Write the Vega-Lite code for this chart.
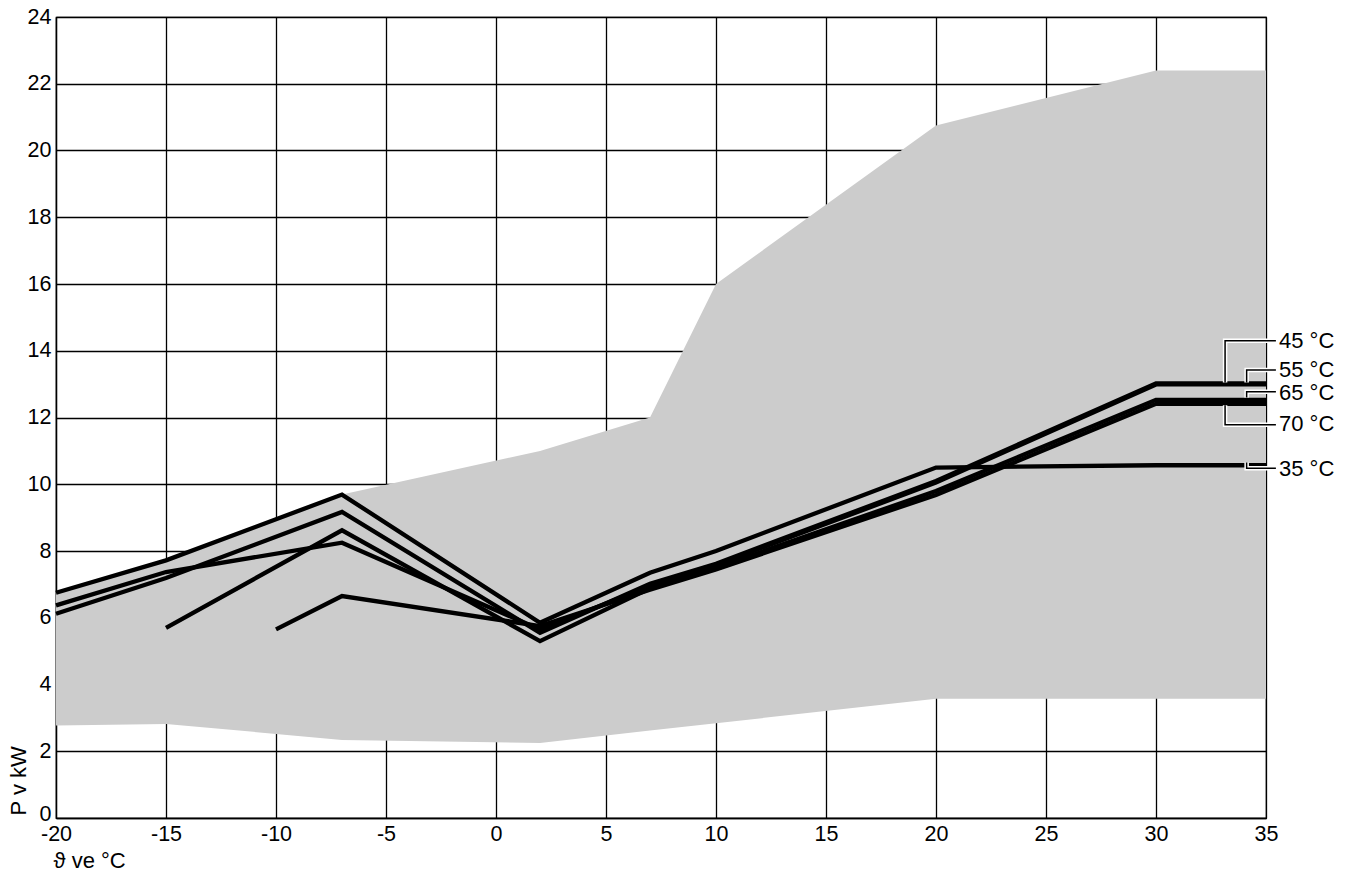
{
  "$schema": "https://vega.github.io/schema/vega-lite/v6.json",
  "width": 1210,
  "height": 801,
  "autosize": {"type": "none"},
  "padding": {"left": 56, "top": 17, "right": 88, "bottom": 57},
  "background": "white",
  "config": {
    "font": "Liberation Sans",
    "view": {"stroke": "black", "strokeWidth": 1.2},
    "axis": {
      "grid": true, "gridColor": "black", "gridWidth": 1.3, "gridOpacity": 1,
      "domain": true, "domainColor": "black", "domainWidth": 1.3,
      "ticks": false, "labelFontSize": 21.5, "labelColor": "black",
      "labelFont": "Liberation Sans", "titleFont": "Liberation Sans",
      "titleFontSize": 22, "titleFontWeight": "normal", "titleColor": "black",
      "labelOverlap": false, "labelFlush": false, "zindex": 1
    }
  },
  "datasets": {
    "band": [
      {"x": -20, "y": 2.77, "y2": 6.75},
      {"x": -15, "y": 2.82, "y2": 7.72},
      {"x": -7, "y": 2.34, "y2": 9.69},
      {"x": 2, "y": 2.25, "y2": 11.0},
      {"x": 7, "y": 2.62, "y2": 12.0},
      {"x": 10, "y": 2.84, "y2": 16.0},
      {"x": 20, "y": 3.57, "y2": 20.75},
      {"x": 30, "y": 3.57, "y2": 22.4},
      {"x": 35, "y": 3.57, "y2": 22.4}
    ],
    "curves": [
      {"series": "35 °C", "x": -20, "y": 6.75},
      {"series": "35 °C", "x": -15, "y": 7.72},
      {"series": "35 °C", "x": -7, "y": 9.69},
      {"series": "35 °C", "x": 2, "y": 5.85},
      {"series": "35 °C", "x": 7, "y": 7.35},
      {"series": "35 °C", "x": 10, "y": 8.0},
      {"series": "35 °C", "x": 20, "y": 10.5},
      {"series": "35 °C", "x": 30, "y": 10.57},
      {"series": "35 °C", "x": 35, "y": 10.57},
      {"series": "45 °C", "x": -20, "y": 6.12},
      {"series": "45 °C", "x": -15, "y": 7.19},
      {"series": "45 °C", "x": -7, "y": 9.17},
      {"series": "45 °C", "x": 2, "y": 5.55},
      {"series": "45 °C", "x": 7, "y": 7.02},
      {"series": "45 °C", "x": 10, "y": 7.62},
      {"series": "45 °C", "x": 20, "y": 10.1},
      {"series": "45 °C", "x": 30, "y": 13.02},
      {"series": "45 °C", "x": 35, "y": 13.02},
      {"series": "55 °C", "x": -20, "y": 6.37},
      {"series": "55 °C", "x": -15, "y": 7.37},
      {"series": "55 °C", "x": -7, "y": 8.25},
      {"series": "55 °C", "x": 2, "y": 5.65},
      {"series": "55 °C", "x": 7, "y": 6.95},
      {"series": "55 °C", "x": 10, "y": 7.58},
      {"series": "55 °C", "x": 20, "y": 10.05},
      {"series": "55 °C", "x": 30, "y": 12.99},
      {"series": "55 °C", "x": 35, "y": 12.99},
      {"series": "65 °C", "x": -15, "y": 5.7},
      {"series": "65 °C", "x": -7, "y": 8.62},
      {"series": "65 °C", "x": 2, "y": 5.3},
      {"series": "65 °C", "x": 7, "y": 6.88},
      {"series": "65 °C", "x": 10, "y": 7.5},
      {"series": "65 °C", "x": 20, "y": 9.8},
      {"series": "65 °C", "x": 30, "y": 12.53},
      {"series": "65 °C", "x": 35, "y": 12.53},
      {"series": "70 °C", "x": -10, "y": 5.65},
      {"series": "70 °C", "x": -7, "y": 6.65},
      {"series": "70 °C", "x": 2, "y": 5.75},
      {"series": "70 °C", "x": 7, "y": 6.84},
      {"series": "70 °C", "x": 10, "y": 7.45},
      {"series": "70 °C", "x": 20, "y": 9.68},
      {"series": "70 °C", "x": 30, "y": 12.41},
      {"series": "70 °C", "x": 35, "y": 12.41}
    ],
    "leaders": [
      {"label": "45 °C", "o": 1, "x": 35.45, "y": 14.3},
      {"label": "45 °C", "o": 2, "x": 33.14, "y": 14.3},
      {"label": "45 °C", "o": 3, "x": 33.14, "y": 13.05},
      {"label": "55 °C", "o": 1, "x": 35.45, "y": 13.42},
      {"label": "55 °C", "o": 2, "x": 34.12, "y": 13.42},
      {"label": "55 °C", "o": 3, "x": 34.12, "y": 13.05},
      {"label": "65 °C", "o": 1, "x": 35.45, "y": 12.77},
      {"label": "65 °C", "o": 2, "x": 34.12, "y": 12.77},
      {"label": "65 °C", "o": 3, "x": 34.12, "y": 12.6},
      {"label": "70 °C", "o": 1, "x": 35.45, "y": 11.78},
      {"label": "70 °C", "o": 2, "x": 33.14, "y": 11.78},
      {"label": "70 °C", "o": 3, "x": 33.14, "y": 12.37},
      {"label": "35 °C", "o": 1, "x": 35.45, "y": 10.48},
      {"label": "35 °C", "o": 2, "x": 34.12, "y": 10.48},
      {"label": "35 °C", "o": 3, "x": 34.12, "y": 10.65}
    ],
    "labels": [
      {"label": "45 °C", "x": 35, "y": 14.3},
      {"label": "55 °C", "x": 35, "y": 13.42},
      {"label": "65 °C", "x": 35, "y": 12.72},
      {"label": "70 °C", "x": 35, "y": 11.8},
      {"label": "35 °C", "x": 35, "y": 10.45}
    ]
  },
  "encoding": {
    "x": {
      "field": "x", "type": "quantitative",
      "scale": {"domain": [-20, 35], "nice": false, "zero": false},
      "axis": {
        "values": [-20, -15, -10, -5, 0, 5, 10, 15, 20, 25, 30, 35],
        "labelExpr": "datum.value + ''",
        "labelPadding": 5,
        "title": "ϑ ve °C", "titleX": -3, "titleY": 42,
        "titleAlign": "left", "titleBaseline": "middle", "titleAnchor": null
      }
    },
    "y": {
      "field": "y", "type": "quantitative",
      "scale": {"domain": [0, 24], "nice": false, "zero": true},
      "axis": {
        "values": [0, 2, 4, 6, 8, 10, 12, 14, 16, 18, 20, 22, 24],
        "labelExpr": "datum.value + ''",
        "labelPadding": 5,
        "labelOffset": {"condition": {"test": "datum.value === 0", "value": -4}, "value": 0},
        "title": "P v kW", "titleAngle": 270, "titleX": -38, "titleY": 798,
        "titleAlign": "left", "titleBaseline": "middle", "titleAnchor": null
      }
    }
  },
  "layer": [
    {
      "data": {"name": "band"},
      "mark": {"type": "area", "color": "#cccccc", "opacity": 1},
      "encoding": {"y2": {"field": "y2"}}
    },
    {
      "data": {"name": "curves"},
      "mark": {"type": "line", "color": "black", "strokeWidth": 4.3, "strokeJoin": "miter", "strokeCap": "butt"},
      "encoding": {"detail": {"field": "series", "type": "nominal"}}
    },
    {
      "data": {"name": "leaders"},
      "mark": {"type": "line", "color": "white", "strokeWidth": 4.5, "strokeJoin": "miter", "strokeCap": "butt"},
      "encoding": {"detail": {"field": "label", "type": "nominal"}, "order": {"field": "o", "type": "quantitative"}}
    },
    {
      "data": {"name": "leaders"},
      "mark": {"type": "line", "color": "black", "strokeWidth": 1.5, "strokeJoin": "miter", "strokeCap": "butt"},
      "encoding": {"detail": {"field": "label", "type": "nominal"}, "order": {"field": "o", "type": "quantitative"}}
    },
    {
      "data": {"name": "labels"},
      "mark": {"type": "text", "align": "left", "baseline": "middle", "dx": 13, "fontSize": 22, "color": "black", "font": "Liberation Sans"},
      "encoding": {"text": {"field": "label", "type": "nominal"}}
    }
  ]
}
